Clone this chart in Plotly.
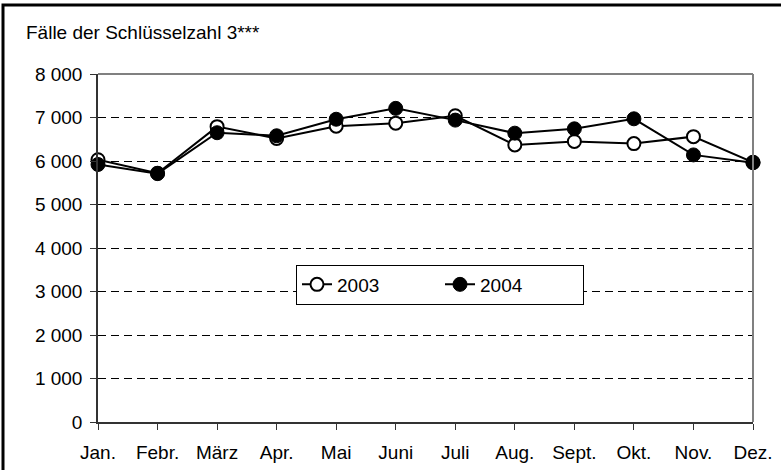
import plotly.graph_objects as go

months = ["Jan.", "Febr.", "März", "Apr.", "Mai", "Juni", "Juli", "Aug.", "Sept.", "Okt.", "Nov.", "Dez."]
faelle_2003 = [6030, 5720, 6790, 6520, 6800, 6870, 7040, 6370, 6450, 6400, 6560, 5970]
faelle_2004 = [5920, 5710, 6650, 6580, 6960, 7210, 6940, 6640, 6740, 6970, 6140, 5960]
y_ticks = [0, 1000, 2000, 3000, 4000, 5000, 6000, 7000, 8000]
y_ticklabels = ["0", "1 000", "2 000", "3 000", "4 000", "5 000", "6 000", "7 000", "8 000"]
title_text = "Fälle der Schlüsselzahl 3***"

W, H = 781, 470
L, R, T, B = 98, 28, 74, 48
pw, ph = W - L - R, H - T - B

def px_x(p):
    return (p - L) / pw

def px_y(p):
    return (H - B - p) / ph

xs = list(range(len(months)))
FS = 19
font = dict(family="Liberation Sans, Arial, sans-serif", size=FS, color="black")

fig = go.Figure()
fig.add_trace(go.Scatter(
    x=xs, y=faelle_2003, name="2003", mode="lines+markers",
    line=dict(color="black", width=2),
    marker=dict(symbol="circle", size=13, color="white", line=dict(color="black", width=2)),
    cliponaxis=False,
))
fig.add_trace(go.Scatter(
    x=xs, y=faelle_2004, name="2004", mode="lines+markers",
    line=dict(color="black", width=2),
    marker=dict(symbol="circle", size=14, color="black", line=dict(color="black", width=1)),
    cliponaxis=False,
))

fig.update_layout(
    width=W, height=H,
    margin=dict(l=L, r=R, t=T, b=B, pad=0, autoexpand=False),
    paper_bgcolor="white", plot_bgcolor="white",
    font=font,
    showlegend=True,
    legend=dict(
        orientation="h", x=px_x(296), xanchor="left", y=px_y(284.5), yanchor="middle",
        bordercolor="black", borderwidth=1, bgcolor="white",
        font=font,
        itemwidth=30, entrywidth=98,
    ),
    xaxis=dict(
        range=[0, 11], tickvals=xs, ticktext=months,
        showgrid=False, zeroline=False, automargin=False,
        showline=True, linecolor="#333333", linewidth=1.5,
        ticks="outside", ticklen=6, tickcolor="#333333", tickwidth=1,
        tickfont=font, ticklabelstandoff=6,
    ),
    xaxis2=dict(
        overlaying="x", anchor="y", side="bottom", range=[0, 11], tickvals=xs,
        showticklabels=False, showgrid=False, zeroline=False, showline=False,
        automargin=False,
        ticks="inside", ticklen=4, tickcolor="#333333", tickwidth=1,
    ),
    yaxis=dict(
        range=[0, 8000], tickvals=y_ticks, ticktext=y_ticklabels,
        showgrid=True, gridcolor="black", gridwidth=1, griddash="8px,5px",
        zeroline=False, automargin=False,
        showline=True, linecolor="#333333", linewidth=1.5,
        ticks="outside", ticklen=6, tickcolor="#333333", tickwidth=1,
        tickfont=font, ticklabelstandoff=4,
    ),
    shapes=[
        dict(type="line", xref="paper", yref="paper", x0=0, x1=1, y0=1, y1=1,
             line=dict(color="#808080", width=2)),
        dict(type="line", xref="paper", yref="paper", x0=1, x1=1, y0=0, y1=1,
             line=dict(color="#808080", width=2)),
        dict(type="rect", xref="paper", yref="paper",
             x0=px_x(3), x1=px_x(820), y0=px_y(500), y1=px_y(5),
             line=dict(color="black", width=3), layer="above"),
    ],
    annotations=[
        dict(text=title_text, xref="paper", yref="paper", x=px_x(24), y=px_y(32),
             xanchor="left", yanchor="middle", showarrow=False, font=font),
    ],
)

fig.write_html("out.html", config={"displayModeBar": False},
               post_script="document.body.style.margin='0';")
